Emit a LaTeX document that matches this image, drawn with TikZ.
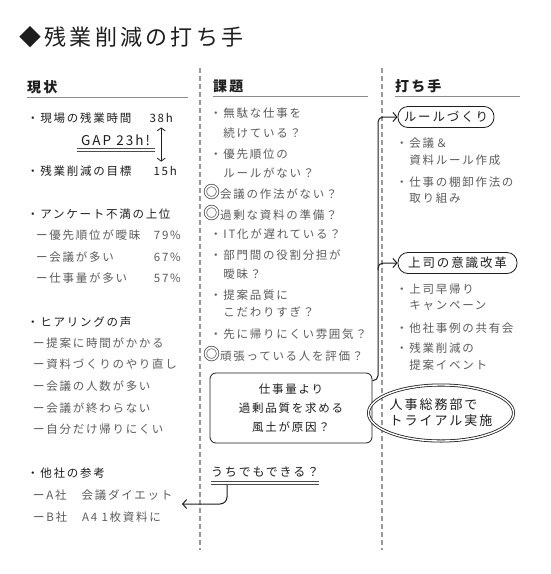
\documentclass[tikz,border=0pt]{standalone}
\usepackage{fontspec}
\setmainfont{Noto Sans CJK JP}[LetterSpace=15]
\usetikzlibrary{positioning,shapes.geometric,arrows.meta}
\definecolor{ink}{HTML}{1E1E1E}
\definecolor{soft}{HTML}{5C5C5C}
\definecolor{linegray}{HTML}{8A8A8A}
\definecolor{dashgray}{HTML}{9A9A9A}

\tikzset{
  title/.style={anchor=base west,inner sep=0pt,text=ink,font=\fontsize{22}{22}\selectfont},
  heading/.style={anchor=base west,inner sep=0pt,text=ink,font=\fontsize{14}{14}\selectfont\bfseries},
  point/.style={anchor=base west,inner sep=0pt,text=ink,font=\fontsize{11.5}{19}\selectfont},
  figure/.style={point,anchor=base east},
  sub/.style={anchor=base west,inner sep=0pt,text=soft,align=left,font=\fontsize{11.5}{19}\selectfont},
  subfig/.style={sub,anchor=base east},
  pill/.style={draw=ink,thick,rounded corners=10pt,minimum height=21pt,inner xsep=5pt,inner ysep=0pt,
    text=ink,font=\fontsize{12.5}{12.5}\selectfont},
  memo/.style={draw=ink,thick,rounded corners=6pt,minimum width=162pt,minimum height=70pt,align=center,
    text=ink,font=\fontsize{11.5}{19}\selectfont},
  trial/.style={ellipse,draw=ink,double=white,double distance=1.4pt,line width=0.8pt,minimum width=118pt,
    minimum height=56pt,inner sep=0pt,align=left,text=ink,font=\fontsize{13}{16}\selectfont},
  colrule/.style={linegray,line width=0.9pt},
  divider/.style={dashgray,line width=1.2pt,dash pattern=on 5pt off 3pt},
  uline/.style={ink!80,line width=1pt},
  link/.style={ink,line width=1pt,-{Straight Barb[length=4pt,width=9pt]}},
}
\newcommand{\dmark}{{\color{ink}\fontsize{17}{17}\selectfont ◎}}

\begin{document}
\begin{tikzpicture}[x=1pt,y=-1pt]
  \fill[white] (0,0) rectangle (550,574);
  \useasboundingbox (0,0) rectangle (550,574);

  % title
  \node[title] (ttl) at (19,45) {◆残業削減の打ち手};

  % column dividers
  \draw[divider] (200,68) -- (200,550);
  \draw[divider] (382,68) -- (382,550);

  % headings
  \node[heading] (hnow) at (27,92) {現状};
  \node[heading] (hissue) at (213,91) {課題};
  \node[heading] (hplan) at (395,91) {打ち手};
  \draw[colrule] (27,97) -- (188,97);
  \draw[colrule] (213,96) -- (368,96);
  \draw[colrule] (395,96) -- (520,96);

  % left column: present state
  \node[point] (site) at (27,122) {・現場の残業時間};
  \node[figure] (h38) at (173,122) {38h};
  \node[point,anchor=base west,font=\fontsize{13.5}{13.5}\selectfont] (gap) at (81,145) {GAP 23h!};
  \draw[uline] ([xshift=-4pt,yshift=-3pt]gap.south west) -- ([xshift=5pt,yshift=-3pt]gap.south east);
  \draw[uline] ([xshift=-4pt,yshift=-6pt]gap.south west) -- ([xshift=5pt,yshift=-6pt]gap.south east);
  \node[point] (goal) at (27,175) {・残業削減の目標};
  \node[figure] (h15) at (177,175) {15h};
  \draw[ink,line width=0.8pt,{Straight Barb[length=3pt,width=8pt]}-{Straight Barb[length=3pt,width=8pt]}]
    ([yshift=-5pt]h38.south) -- ([yshift=4pt]h38.south |- h15.north);

  \node[point] (survey) at (27,218) {・アンケート不満の上位};
  \node[sub] (sv1) at (36,239) {ー優先順位が曖昧};
  \node[subfig] (p79) at (181,239) {79\%};
  \node[sub] (sv2) at (36,261) {ー会議が多い};
  \node[subfig] (p67) at (181,261) {67\%};
  \node[sub] (sv3) at (36,282) {ー仕事量が多い};
  \node[subfig] (p57) at (181,282) {57\%};

  \node[point] (voice) at (27,326) {・ヒアリングの声};
  \node[sub] (vc1) at (33,347) {ー提案に時間がかかる};
  \node[sub] (vc2) at (33,368) {ー資料づくりのやり直し};
  \node[sub] (vc3) at (33,390) {ー会議の人数が多い};
  \node[sub] (vc4) at (33,412) {ー会議が終わらない};
  \node[sub] (vc5) at (33,433) {ー自分だけ帰りにくい};

  \node[point] (others) at (27,477) {・他社の参考};
  \node[sub] (coA) at (33,499) {ーA社　会議ダイエット};
  \node[sub] (coB) at (33,521) {ーB社　A4 1枚資料に};

  % middle column: issues (multi-line nodes sit on their last line)
  \node[sub,font=\fontsize{11.5}{20}\selectfont] (is1) at (210,137.5) {・無駄な仕事を\\　続けている？};
  \node[sub] (is2) at (210,177.5) {・優先順位の\\　ルールがない？};
  \node[sub] (is3) at (203,198) {\dmark 会議の作法がない？};
  \node[sub] (is4) at (203,219) {\dmark 過剰な資料の準備？};
  \node[sub] (is5) at (210,238.5) {・IT化が遅れている？};
  \node[sub] (is6) at (210,278) {・部門間の役割分担が\\　曖昧？};
  \node[sub,font=\fontsize{11.5}{17}\selectfont] (is7) at (210,316.5) {・提案品質に\\　こだわりすぎ？};
  \node[sub] (is8) at (210,338.5) {・先に帰りにくい雰囲気？};
  \node[sub] (is9) at (203,360) {\dmark 頑張っている人を評価？};

  \node[memo] (cause) at (291,408) {仕事量より\\過剰品質を求める\\風土が原因？};

  \node[point,font=\fontsize{12}{12}\selectfont] (canwe) at (211,476) {うちでもできる？};
  \draw[uline] ([yshift=-5pt]canwe.south west) -- ([yshift=-5pt]canwe.south east);
  \draw[uline] ([yshift=-8pt]canwe.south west) -- ([yshift=-8pt]canwe.south east);
  \coordinate (back) at (182,504);
  \draw[link,rounded corners=7pt] ([xshift=16pt,yshift=-8pt]canwe.south west) |- (back);

  % right column: measures
  \node[pill,minimum width=96pt] (rule) at (446,117) {ルールづくり};
  \node[sub,font=\fontsize{11.5}{17}\selectfont] (rl1) at (396,164.5) {・会議＆\\　資料ルール作成};
  \node[sub,font=\fontsize{11.5}{16}\selectfont] (rl2) at (396,202.5) {・仕事の棚卸作法の\\　取り組み};

  \node[pill,minimum width=119pt] (boss) at (457.5,263) {上司の意識改革};
  \node[sub,font=\fontsize{11.5}{16}\selectfont] (bs1) at (396,309.5) {・上司早帰り\\　キャンペーン};
  \node[sub] (bs2) at (396,332.5) {・他社事例の共有会};
  \node[sub,font=\fontsize{11.5}{17}\selectfont] (bs3) at (396,369.5) {・残業削減の\\　提案イベント};

  \node[trial] (hr) at (441,413) {人事総務部で\\トライアル実施};

  % connectors from the cause box
  \coordinate (trunk) at (378,117);
  \draw[link,rounded corners=5pt] ([yshift=-8pt]cause.north east) -| (trunk) -- (rule.west);
  \draw[link,rounded corners=5pt] ([yshift=-7pt]trunk |- boss.west) -- (trunk |- boss.west) -- (boss.west);
\end{tikzpicture}
\end{document}
